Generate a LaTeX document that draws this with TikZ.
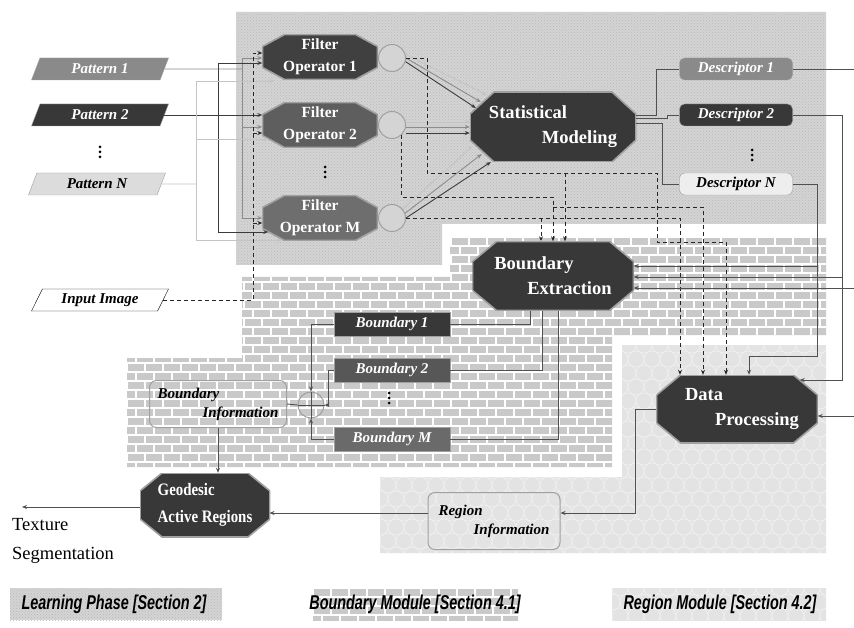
\documentclass[tikz,border=0pt]{standalone}
\usepackage{fontspec}
\setmainfont{Liberation Serif}
\newfontfamily\legendfont[FakeStretch=0.72]{Liberation Sans}
\newfontfamily\narrowserif[FakeStretch=0.85]{Liberation Serif}
\usetikzlibrary{shapes.geometric,arrows.meta,patterns}

\definecolor{fillA}{HTML}{383838}
\definecolor{fillB}{HTML}{8A8A8A}
\definecolor{fillC}{HTML}{DCDCDC}
\definecolor{fillD}{HTML}{EEEEEE}
\definecolor{filtA}{HTML}{404040}
\definecolor{filtB}{HTML}{5E5E5E}
\definecolor{filtC}{HTML}{6E6E6E}
\definecolor{bndB}{HTML}{575757}
\definecolor{bndC}{HTML}{6A6A6A}
\definecolor{wireA}{HTML}{3C3C3C}
\definecolor{wireB}{HTML}{8C8C8C}
\definecolor{wireC}{HTML}{C4C4C4}
\definecolor{wireM}{HTML}{505050}
\definecolor{learnbg}{HTML}{D4D4D4}
\definecolor{brickbg}{HTML}{C9C9C9}
\definecolor{hexbg}{HTML}{E3E3E3}
\definecolor{hexln}{HTML}{EEEEEE}
\definecolor{edge}{HTML}{A0A0A0}

\newcommand\octfont{\fontsize{15.5}{22}\selectfont\bfseries}
\newcommand\bigfont{\fontsize{18.5}{25}\selectfont\bfseries}
\newcommand\labfont{\fontsize{15}{19}\selectfont\bfseries\itshape}

% background textures
\newcommand\brickwall[4]{%
  \fill[brickbg] (#1,#2) rectangle ++(18*#3,9*#4);
  \foreach \r in {0,...,#4}{%
    \draw[mortar] (#1,#2+9*\r) -- ++(18*#3,0);
    \foreach \c in {0,...,#3}
      \draw[mortar] ({#1+18*\c+9*mod(\r,2)},{#2+9*\r}) -- ++(0,9);
  }}
\newcommand\honeycomb[4]{%
  \fill[hexbg] (#1,#2) rectangle ++(16*#3,14*#4);
  \foreach \r in {0,...,#4}
    \foreach \c in {0,...,#3}
      \draw[hexline] ({#1+16*\c+8*mod(\r,2)},{#2+14*\r}) circle (8pt);}

\begin{document}
\begin{tikzpicture}[x=1pt,y=-1pt,>={Stealth[length=5pt,width=4pt]},
  mortar/.style={white,line width=1.3pt},
  hexline/.style={draw=hexln,line width=0.8pt},
  octa/.style n args={3}{rectangle,inner sep=0pt,text=white,align=left,
    path picture={\filldraw[fill=#1,draw=edge,line width=1.6pt]
      ([xshift=#2]path picture bounding box.north west) --
      ([xshift=-#2]path picture bounding box.north east) --
      ([yshift=-#3]path picture bounding box.north east) --
      ([yshift=#3]path picture bounding box.south east) --
      ([xshift=-#2]path picture bounding box.south east) --
      ([xshift=#2]path picture bounding box.south west) --
      ([yshift=#3]path picture bounding box.south west) --
      ([yshift=-#3]path picture bounding box.north west) -- cycle;}},
  filt/.style={minimum width=115pt,minimum height=45pt,align=center,font=\octfont},
  pat/.style={trapezium,trapezium left angle=50,trapezium right angle=130,
    trapezium stretches body,minimum width=137pt,minimum height=22pt,
    inner sep=0pt,draw=edge,font=\labfont},
  desc/.style={rectangle,rounded corners=5pt,minimum width=113pt,
    minimum height=22pt,inner sep=0pt,draw=edge,font=\labfont},
  bnd/.style={rectangle,minimum width=116pt,minimum height=24pt,inner sep=0pt,
    draw=edge,text=white,font=\labfont},
  info/.style={rectangle,rounded corners=7pt,draw=edge,line width=1pt,
    inner sep=0pt,align=left,font=\labfont},
  ring/.style={circle,minimum size=27pt,inner sep=0pt,draw=edge,line width=1pt},
  vdotsnode/.style={rectangle,inner sep=0pt,minimum width=4pt,minimum height=16pt,
    path picture={\foreach \k in {-5,0,5}
      \fill[black] ([yshift=\k pt]path picture bounding box.center) circle (1.5pt);}},
  wire/.style={draw=wireM,line width=0.9pt},
  wA/.style={draw=wireA,line width=0.9pt},
  wB/.style={draw=wireB,line width=0.9pt},
  wC/.style={draw=wireC,line width=0.9pt},
  dsh/.style={draw=black!85,line width=0.9pt,dash pattern=on 4pt off 3pt},
  legtext/.style={inner sep=0pt,font=\legendfont\fontsize{20}{22}\selectfont\bfseries\itshape}]

\fill[white] (0,0) rectangle (854,628);
\useasboundingbox (0,0) rectangle (854,628);

% module areas
\fill[learnbg] (236,12) -- (826,12) -- (826,224) -- (442,224) -- (442,265) -- (236,265) -- cycle;
\fill[pattern=crosshatch dots,pattern color=gray!55] (236,12) -- (826,12) -- (826,224) -- (442,224) -- (442,265) -- (236,265) -- cycle;
\begin{scope}
  \clip (450,237) -- (826,237) -- (826,335) -- (612,335) -- (612,467) -- (127,467)
    -- (127,358) -- (242,358) -- (242,277) -- (450,277) -- cycle;
  \brickwall{127}{237}{39}{26}
\end{scope}
\begin{scope}
  \clip (622,345) -- (826,345) -- (826,553) -- (380,553) -- (380,477) -- (622,477) -- cycle;
  \honeycomb{372}{345}{29}{16}
\end{scope}

% legend
\fill[learnbg] (10,588) rectangle (222,620);
\fill[pattern=crosshatch dots,pattern color=gray!55] (10,588) rectangle (222,620);
\begin{scope}
  \clip (313,588) rectangle (518,620);
  \brickwall{313}{588}{12}{4}
\end{scope}
\begin{scope}
  \clip (612,588) rectangle (826,620);
  \honeycomb{604}{588}{14}{3}
\end{scope}
\node[legtext] (leg1) at (114,604) {Learning Phase [Section 2]};
\node[legtext] (leg2) at (415,604) {Boundary Module [Section 4.1]};
\node[legtext] (leg3) at (720,604) {Region Module [Section 4.2]};

% inputs
\node[pat,fill=fillB,text=white] (P1) at (100,69) {Pattern 1};
\node[pat,fill=fillA,text=white] (P2) at (100,115) {Pattern 2};
\node[vdotsnode] (Pdots) at (100,152) {};
\node[pat,fill=fillC] (PN) at (97,184) {Pattern N};
\node[pat,fill=white,draw=black] (IN) at (100,300) {Input Image};

% learning phase
\node[octa={filtA}{22pt}{12pt},filt] (F1) at (320,57) {Filter\\Operator 1};
\node[octa={filtB}{22pt}{12pt},filt] (F2) at (320,125) {Filter\\Operator 2};
\node[vdotsnode] (Fdots) at (325,172) {};
\node[octa={filtC}{22pt}{12pt},filt] (FM) at (320,218) {Filter\\Operator M};
\node[ring,fill=learnbg] (c1) at (392,58) {};
\node[ring,fill=learnbg] (c2) at (392,125) {};
\node[ring,fill=learnbg] (cM) at (392,218) {};
\node[octa={fillA}{24pt}{22pt},minimum width=166pt,minimum height=70pt,font=\bigfont]
  (SM) at (553,127) {Statistical\\\hspace*{53pt}Modeling};
\node[desc,fill=fillB,text=white] (D1) at (736,69) {Descriptor 1};
\node[desc,fill=fillA,text=white] (D2) at (736,115) {Descriptor 2};
\node[vdotsnode] (Ddots) at (752,155) {};
\node[desc,fill=fillD] (DN) at (736,184) {Descriptor N};

% boundary module
\node[octa={fillA}{24pt}{20pt},minimum width=161pt,minimum height=69pt,font=\bigfont]
  (BE) at (553,276) {Boundary\\\hspace*{33pt}Extraction};
\node[bnd,fill=fillA] (B1) at (392,324) {Boundary 1};
\node[bnd,fill=bndB] (B2) at (392,370) {Boundary 2};
\node[vdotsnode] (Bdots) at (389,398) {};
\node[bnd,fill=bndC] (BM) at (392,439) {Boundary M};
\node[ring,minimum size=26pt] (sum) at (311,405) {};
\node[info,minimum width=137pt,minimum height=47pt] (BI) at (218,404)
  {Boundary\\\hspace*{45pt}Information};

% region module
\node[octa={fillA}{24pt}{20pt},minimum width=161pt,minimum height=68pt,font=\bigfont]
  (DP) at (737,409) {\hspace*{10pt}Data\\\hspace*{40pt}Processing};
\node[info,minimum width=132pt,minimum height=57pt] (RI) at (494,521)
  {Region\\\hspace*{35pt}Information};
\node[octa={fillA}{22pt}{18pt},minimum width=130pt,minimum height=64pt,
  font=\narrowserif\fontsize{17.5}{27}\selectfont\bfseries]
  (GAR) at (205,505) {Geodesic\\Active Regions};
\node[anchor=north west,align=left,inner sep=0pt,font=\fontsize{18.5}{29}\selectfont]
  (TS) at (12,518) {Texture\\Segmentation};
\coordinate (outend) at (22,507);
\coordinate (d1out) at (854,69);
\coordinate (d1be) at (854,288);
\coordinate (d1dp) at (854,416);

% patterns to filters
\draw[wB] (P1.east) -- (242,69);
\draw[wB,->] (242,69) |- ([yshift=-1pt]F1.west);
\draw[wB,->] (242,69) |- ([yshift=-2pt]F2.west);
\draw[wB,->] (242,69) |- (FM.west);
\draw[wA,->] (P2.east) -- (P2.east -| F2.west);
\draw[wA,->] (218,115) |- ([yshift=-6pt]F1.west);
\draw[wA,->] (218,115) |- ([shift={(6,14)}]FM.west);
\draw[wC] (PN.east) -- (196,184);
\draw[wC,->] (196,184) |- ([shift={(12,24)}]F1.west);
\draw[wC,->] (196,184) |- ([shift={(6,14)}]F2.west);
\draw[wC,->] (196,184) |- ([shift={(20,22)}]FM.west);
\draw[dsh,->] (IN.east) -| (253,53) -- ([yshift=4pt]F1.west);
\draw[dsh,->] (253,133) -- ([yshift=-8pt]F2.west);
\draw[dsh,->] (253,223) -- ([yshift=-5pt]FM.west);

% filters to statistical modeling
\draw[wC,->] (c1.15) -- ([shift={(17,-32)}]SM.west);
\draw[wB,->] (c1.0) -- ([shift={(11,-25)}]SM.west);
\draw[wA,->] (c1.-15) -- ([shift={(6,-19)}]SM.west);
\draw[wC,->] ([yshift=3pt]c2.east) -- ([yshift=5pt]SM.west);
\draw[wB,->] ([yshift=-2pt]c2.east) -- (SM.west);
\draw[wA,->] ([yshift=-8pt]c2.east) -- ([yshift=-6pt]SM.west);
\draw[wC,->] (cM.40) -- ([shift={(3,19)}]SM.west);
\draw[wB,->] (cM.20) -- ([shift={(12,27)}]SM.west);
\draw[wA,->] (cM.0) -- ([shift={(21,35)}]SM.west);

% filter responses to the modules
\draw[dsh,->] (c1.east) -| (427,173) -| (657,242) -| ([xshift=-11pt]DP.north);
\draw[dsh,->] (565,173) -- ([xshift=12pt]BE.north);
\draw[dsh,->] (c2.south east) |- (553,197) -- (BE.north);
\draw[dsh,->] (553,207) -| ([xshift=-34pt]DP.north);
\draw[dsh,->] (cM.east) -| ([xshift=-57pt]DP.north);
\draw[dsh,->] (541,218) -- ([xshift=-12pt]BE.north);

% descriptors
\draw[wire] ([yshift=12pt]SM.east) -| ([xshift=-23pt]D1.west) -- (D1.west);
\draw[wire] ([yshift=9pt]SM.east) -| ([xshift=-12pt]D2.west) -- (D2.west);
\draw[wire] ([yshift=4pt]SM.east) -| ([xshift=-17pt]DN.west) -- (DN.west);
\draw[wire] (D1.east) -- (d1out);
\draw[wire,->] (d1be) -- ([yshift=-12pt]BE.east);
\draw[wire,->] (d1dp) -- ([yshift=-7pt]DP.east);
\draw[wire,->] (D2.east) -| (842,380) -- ([shift={(-18,-29)}]DP.east);
\draw[wire,->] (842,277) -- ([yshift=-1pt]BE.east);
\draw[wire,->] (DN.east) -| (817,356) -| ([xshift=12pt]DP.north);
\draw[wire,->] (817,266) -- ([yshift=10pt]BE.east);

% boundary module wiring
\draw[wire] ([xshift=-23pt]BE.south) |- (B1.east);
\draw[wire] ([xshift=-11pt]BE.south) |- (B2.east);
\draw[wire] ([xshift=5pt]BE.south) |- (BM.east);
\draw[wire,->] (B1.west) -| (sum.north);
\draw[wire,->] (B2.west) -- ++(-5,0) |- (sum.east);
\draw[wire,->] (BM.west) -| (sum.south);
\draw[wire] (sum.north) -- (sum.south) (sum.west) -- (sum.east);
\draw[wire] (sum.west) -- (BI.east);
\draw[wire,->] (BI.south) -- (BI.south |- GAR.north);

% region module wiring
\draw[wire,->] (DP.west) -- ++(-21,0) |- ([yshift=8pt]RI.east);
\draw[wire,->] ([yshift=8pt]RI.west) -- +(-158,0);
\draw[wire,->] ([yshift=-2pt]GAR.west) -- (outend);
\end{tikzpicture}
\end{document}
